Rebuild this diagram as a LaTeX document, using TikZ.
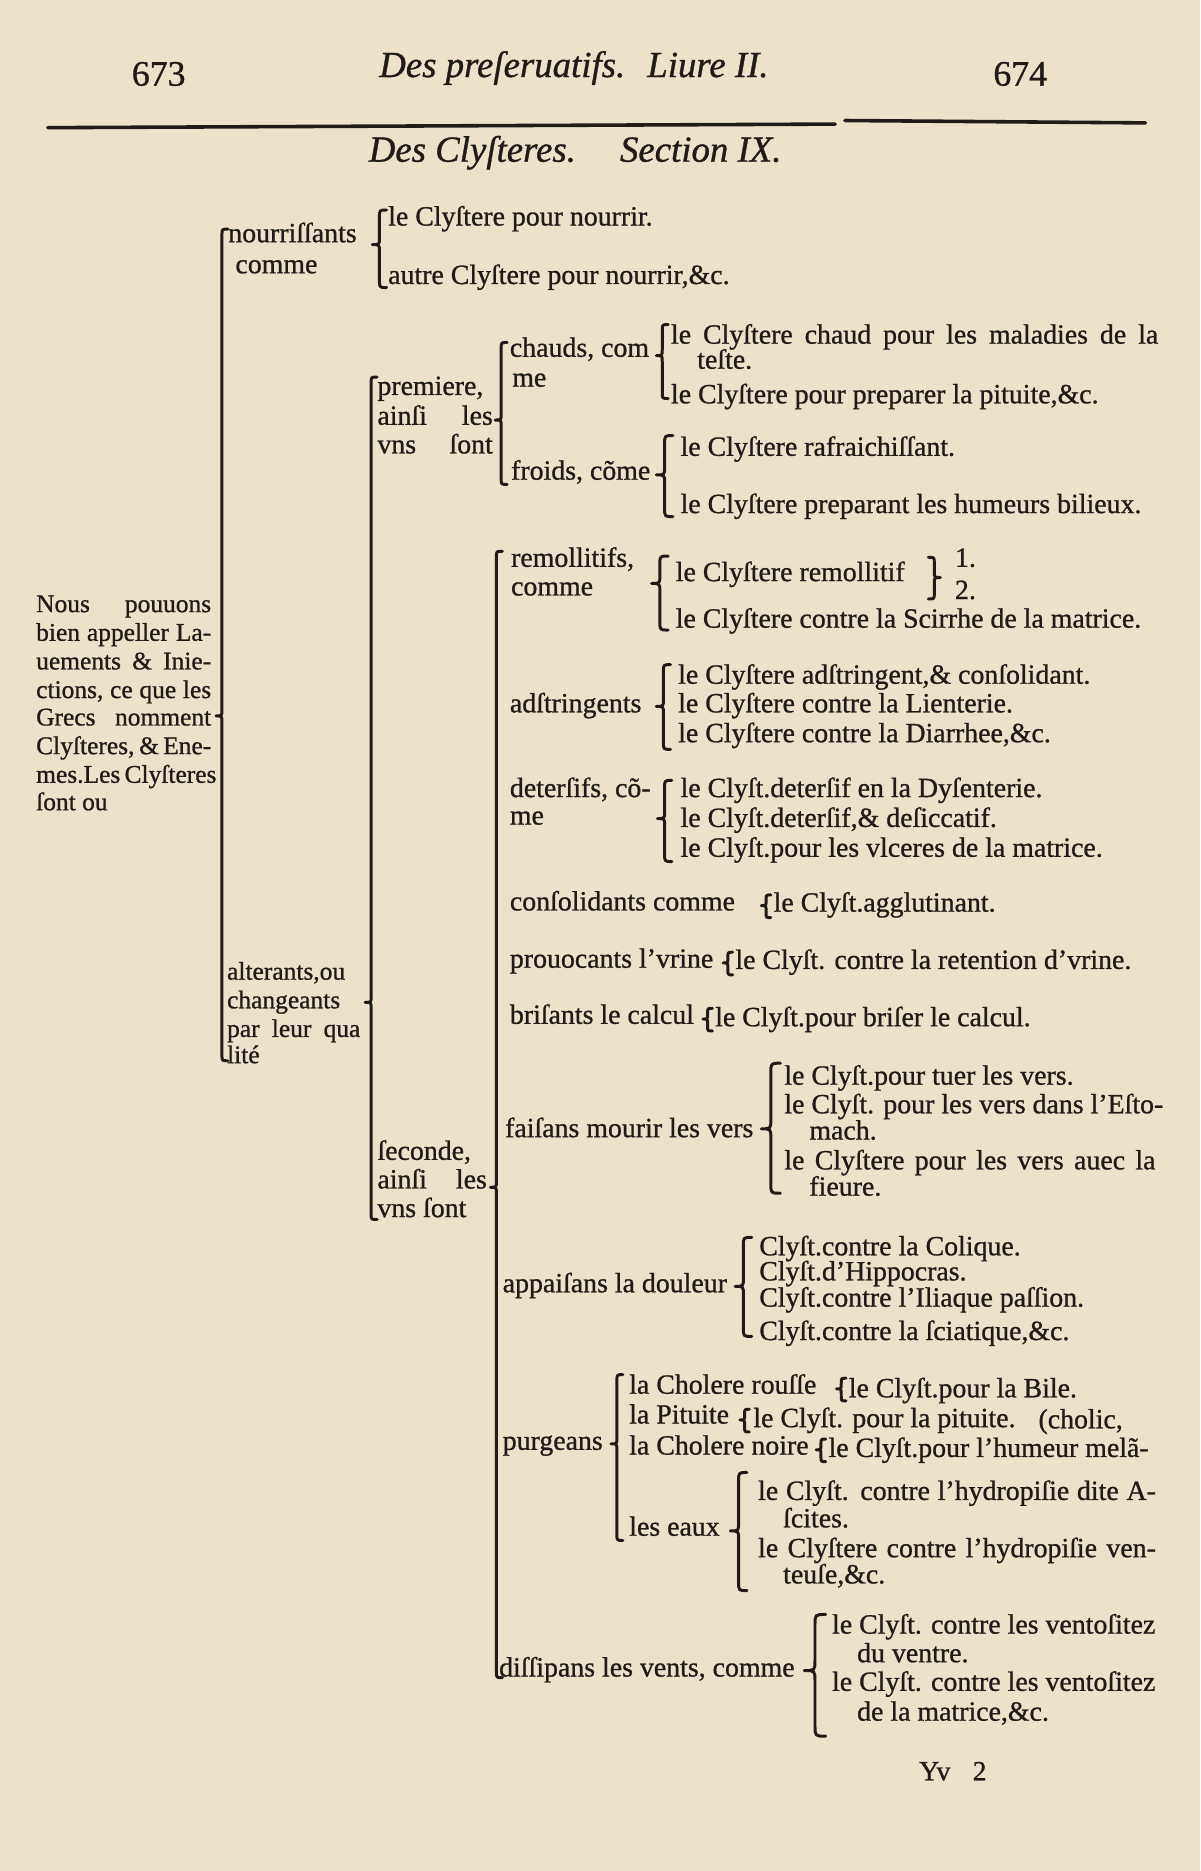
\documentclass[tikz,border=0pt]{standalone}
\usepackage{fontspec}
\setmainfont{Liberation Serif}
\newfontfamily\inkfont{Liberation Serif}[Ligatures=TeX,FakeBold=0.9]
\definecolor{paper}{RGB}{236,226,204}
\definecolor{ink}{RGB}{32,27,24}
\tikzset{
  txt/.style={inner sep=0pt, anchor=base west, text=ink, font=\inkfont\fontsize{14}{16}\selectfont},
  smalltxt/.style={txt, font=\inkfont\fontsize{12.8}{16}\selectfont},
  hdr/.style={inner sep=0pt, text=ink, font=\inkfont\fontsize{18}{20}\selectfont},
  brc/.style={draw=ink, line width=1.5pt, line cap=round, line join=round},
  rulestyle/.style={draw=ink, line width=1.8pt, line cap=round}
}
% left brace: x, ytop, ycusp, ybottom, amplitude
\newcommand{\lbr}[5]{\draw[brc] ({#1+#5},#2) .. controls (#1,#2) .. (#1,{#2+#5}) -- (#1,{#3-#5}) .. controls (#1,#3) .. ({#1-#5},#3) .. controls (#1,#3) .. (#1,{#3+#5}) -- (#1,{#4-#5}) .. controls (#1,#4) .. ({#1+#5},#4);}
% right brace
\newcommand{\rbr}[5]{\draw[brc] ({#1-#5},#2) .. controls (#1,#2) .. (#1,{#2+#5}) -- (#1,{#3-#5}) .. controls (#1,#3) .. ({#1+#5},#3) .. controls (#1,#3) .. (#1,{#3+#5}) -- (#1,{#4-#5}) .. controls (#1,#4) .. ({#1-#5},#4);}
\newcommand{\txtline}[4]{\node[txt] (#1) at (#2,#3) {#4};}
\newcommand{\jline}[5]{\node[txt] (#1) at (#2,#3) {\makebox[#4][s]{#5}};}
\newcommand{\sjline}[5]{\node[smalltxt] (#1) at (#2,#3) {\makebox[#4][s]{#5}};}
\begin{document}
\begin{tikzpicture}[x=0.6pt,y=-0.6pt]
\fill[paper] (0,0) rectangle (1006,1568);
\useasboundingbox (0,0) rectangle (1006,1568);

% header
\node[hdr] (p673) at (133,62) {673};
\node[hdr,font=\inkfont\fontsize{18.5}{20}\selectfont\itshape] (runhead) at (481,57) {Des preſeruatifs.\hspace{0.6em}Liure II.};
\node[hdr] (p674) at (855,62) {674};
\draw[rulestyle] (40,107) -- (700,104);
\draw[rulestyle] (708,101) -- (960,103);
\node[hdr,font=\inkfont\fontsize{18.5}{20}\selectfont\itshape] (sect) at (482,128) {Des Clyſteres.\hspace{1.2em}Section IX.};

% root text
\sjline{r1}{30}{513}{88pt}{Nous pouuons}
\sjline{r2}{30}{537}{88pt}{bien appeller La-}
\sjline{r3}{30}{561}{88pt}{uements \& Inie-}
\sjline{r4}{30}{585}{88pt}{ctions, ce que les}
\sjline{r5}{30}{608}{88pt}{Grecs nomment}
\sjline{r6}{30}{632}{88pt}{Clyſteres, \& Ene-}
\sjline{r7}{30}{656}{88pt}{mes.Les Clyſteres}
\node[smalltxt] (r8) at (30,679) {ſont ou};
\lbr{186}{192}{600}{889}{5}

% nourrissants
\txtline{n1}{191}{203}{nourriſſants}
\txtline{n2}{197}{229}{comme}
\lbr{318}{176}{205}{241}{6}
\txtline{n3}{325}{189}{le Clyſtere pour nourrir.}
\txtline{n4}{325}{238}{autre Clyſtere pour nourrir,\&c.}

% alterants
\sjline{a1}{190}{821}{67pt}{alterants,ou}
\node[smalltxt] (a2) at (190,845) {changeants};
\sjline{a3}{190}{869}{67pt}{par leur qua}
\node[smalltxt] (a4) at (190,891) {lité};
\lbr{311}{316}{840}{1022}{5}

% premiere
\txtline{pr1}{316}{331}{premiere,}
\jline{pr2}{316}{356}{58pt}{ainſi les}
\jline{pr3}{316}{380}{58pt}{vns ſont}
\lbr{420}{287}{352}{406}{5}

\txtline{ch1}{427}{299}{chauds, com}
\txtline{ch2}{429}{324}{me}
\lbr{555}{272}{298}{334}{5}
\jline{ch3}{562}{288}{245pt}{le Clyſtere chaud pour les maladies de la}
\txtline{ch4}{584}{309}{teſte.}
\txtline{ch5}{562}{338}{le Clyſtere pour preparer la pituite,\&c.}

\txtline{fr1}{428}{402}{froids, cõme}
\lbr{557}{365}{398}{433}{7}
\txtline{fr2}{570}{382}{le Clyſtere rafraichiſſant.}
\txtline{fr3}{570}{430}{le Clyſtere preparant les humeurs bilieux.}

% seconde
\txtline{se1}{316}{972}{ſeconde,}
\jline{se2}{316}{996}{55pt}{ainſi les}
\txtline{se3}{316}{1020}{vns ſont}
\lbr{416}{462}{995}{1406}{5}

\txtline{re1}{428}{475}{remollitifs,}
\txtline{re2}{428}{499}{comme}
\lbr{553}{466}{489}{528}{7}
\txtline{re3}{566}{487}{le Clyſtere remollitif}
\rbr{783}{467}{484}{502}{5}
\txtline{re4}{800}{475}{1.}
\txtline{re5}{800}{502}{2.}
\txtline{re6}{566}{526}{le Clyſtere contre la Scirrhe de la matrice.}

\txtline{ad1}{427}{597}{adſtringents}
\lbr{556}{557}{592}{628}{6}
\txtline{ad2}{568}{573}{le Clyſtere adſtringent,\& conſolidant.}
\txtline{ad3}{568}{597}{le Clyſtere contre la Lienterie.}
\txtline{ad4}{568}{622}{le Clyſtere contre la Diarrhee,\&c.}

\txtline{de1}{427}{668}{deterſifs, cõ-}
\txtline{de2}{427}{691}{me}
\lbr{557}{654}{686}{722}{6}
\txtline{de3}{570}{668}{le Clyſt.deterſif en la Dyſenterie.}
\txtline{de4}{570}{693}{le Clyſt.deterſif,\& deſiccatif.}
\txtline{de5}{570}{718}{le Clyſt.pour les vlceres de la matrice.}

\txtline{co1}{427}{763}{conſolidants comme}
\lbr{642}{750}{759}{769}{4}
\txtline{co2}{648}{764}{le Clyſt.agglutinant.}

\txtline{pv1}{427}{811}{prouocants l'vrine}
\lbr{610}{798}{807}{817}{4}
\txtline{pv2}{616}{812}{le Clyſt. contre la retention d'vrine.}

\txtline{bc1}{427}{858}{briſants le calcul}
\lbr{593}{845}{854}{864}{4}
\txtline{bc2}{599}{860}{le Clyſt.pour briſer le calcul.}

\txtline{fa1}{423}{953}{faiſans mourir les vers}
\lbr{646}{891}{946}{1000}{8}
\txtline{fa2}{657}{909}{le Clyſt.pour tuer les vers.}
\txtline{fa3}{657}{933}{le Clyſt. pour les vers dans l'Eſto-}
\txtline{fa4}{678}{955}{mach.}
\jline{fa5}{657}{980}{186.6pt}{le Clyſtere pour les vers auec la}
\txtline{fa6}{678}{1002}{fieure.}

\txtline{ap1}{421}{1083}{appaiſans la douleur}
\lbr{623}{1037}{1078}{1120}{7}
\txtline{ap2}{636}{1052}{Clyſt.contre la Colique.}
\txtline{ap3}{636}{1073}{Clyſt.d'Hippocras.}
\txtline{ap4}{636}{1095}{Clyſt.contre l'Iliaque paſſion.}
\txtline{ap5}{636}{1123}{Clyſt.contre la ſciatique,\&c.}

\txtline{pu1}{421}{1215}{purgeans}
\lbr{517}{1152}{1210}{1291}{5}
\txtline{pu2}{527}{1168}{la Cholere rouſſe}
\lbr{705}{1155}{1164}{1174}{4}
\txtline{pu3}{711}{1171}{le Clyſt.pour la Bile.}
\txtline{pu4}{527}{1193}{la Pituite}
\lbr{624}{1181}{1190}{1200}{4}
\txtline{pu5}{631}{1196}{le Clyſt. pour la pituite.}
\txtline{pu6}{870}{1197}{(cholic,}
\txtline{pu7}{527}{1219}{la Cholere noire}
\lbr{688}{1206}{1215}{1225}{4}
\txtline{pu8}{694}{1221}{le Clyſt.pour l'humeur melã-}
\txtline{pu9}{527}{1287}{les eaux}
\lbr{619}{1234}{1283}{1333}{7}
\jline{pu10}{635}{1257}{200pt}{le Clyſt. contre l'hydropiſie dite A-}
\txtline{pu11}{656}{1280}{ſcites.}
\jline{pu12}{635}{1305}{200pt}{le Clyſtere contre l'hydropiſie ven-}
\txtline{pu13}{656}{1327}{teuſe,\&c.}

\txtline{di1}{418}{1405}{diſſipans les vents, comme}
\lbr{683}{1353}{1400}{1455}{9}
\txtline{di2}{697}{1369}{le Clyſt. contre les ventoſitez}
\txtline{di3}{718}{1393}{du ventre.}
\txtline{di4}{697}{1417}{le Clyſt. contre les ventoſitez}
\txtline{di5}{718}{1442}{de la matrice,\&c.}

\txtline{sig}{770}{1492}{Yv\hspace{0.8em}2}
\end{tikzpicture}
\end{document}
